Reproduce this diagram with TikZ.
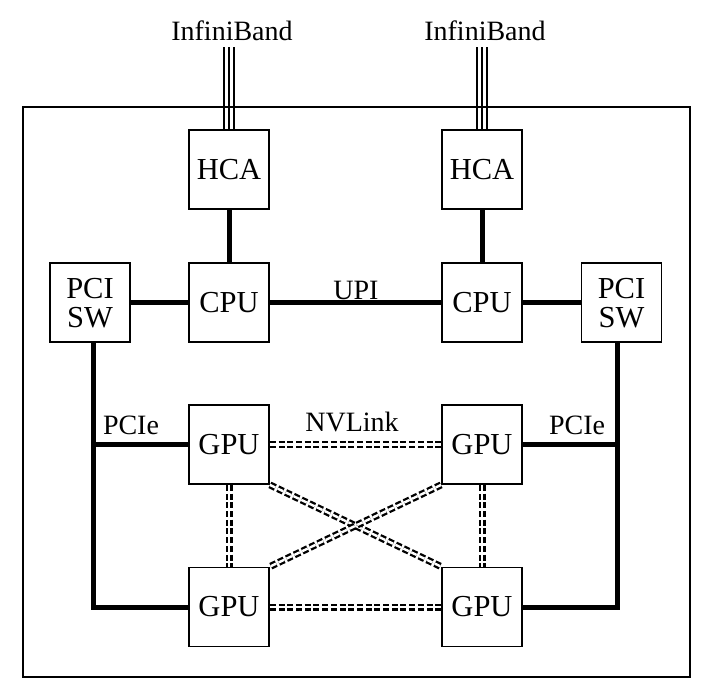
\documentclass[tikz,border=0pt]{standalone}
\usepackage{fontspec}
\setmainfont{Liberation Serif}
\begin{document}
\begin{tikzpicture}[x=1pt,y=-1pt,
  box/.style={draw,line width=1.8pt,minimum width=80pt,minimum height=79pt,inner sep=0pt,font=\fontsize{30.5}{31}\selectfont,align=center},
  lbl/.style={inner sep=0pt,font=\fontsize{28}{30}\selectfont},
  bus/.style={line width=5pt},
  nvl/.style={double,double distance=2.4pt,line width=2.3pt,dash pattern=on 6pt off 2.7pt},
  ibl/.style={line width=2.5pt}]
\useasboundingbox (0,0) rectangle (712,694);
\draw[line width=1.9pt] (23,107) rectangle (690,677);
% nodes
\node[box] (hca1) at (229,169.5) {HCA};
\node[box] (hca2) at (482,169.5) {HCA};
\node[box] (cpu1) at (229,302.5) {CPU};
\node[box] (cpu2) at (482,302.5) {CPU};
\node[box,text depth=0pt] (sw1) at (90,302.5) {PCI\\[-2pt]SW};
\node[box,text depth=0pt] (sw2) at (621.5,302.5) {PCI\\[-2pt]SW};
\node[box] (gpu1) at (229,444.5) {GPU};
\node[box] (gpu2) at (482,444.5) {GPU};
\node[box] (gpu3) at (229,607) {GPU};
\node[box] (gpu4) at (482,607) {GPU};
% labels
\node[lbl] (ib1) at (232,31) {InfiniBand};
\node[lbl] (ib2) at (485,31) {InfiniBand};
\node[lbl] (upi) at (356,290) {UPI};
\node[lbl] (nvl) at (352,422) {NVLink};
\node[lbl] (pcie1) at (131,425) {PCIe};
\node[lbl] (pcie2) at (577,425) {PCIe};
% infiniband triple lines
\foreach \h in {hca1,hca2}{
  \foreach \d in {-5,0,5}{
    \draw[ibl] ([xshift=\d pt]\h.north) -- ++(0,-82);
  }
}
% thick buses
\draw[bus] (hca1) -- (cpu1);
\draw[bus] (hca2) -- (cpu2);
\draw[bus] (sw1) -- (cpu1);
\draw[bus] (cpu1) -- (cpu2);
\draw[bus] (cpu2) -- (sw2);
\coordinate (l1) at ([xshift=3pt]sw1.south);
\coordinate (r1) at ([xshift=-4pt]sw2.south);
\draw[bus] (l1) |- (gpu3.west);
\draw[bus] (l1 |- gpu1.west) -- (gpu1.west);
\draw[bus] (r1) |- (gpu4.east);
\draw[bus] (r1 |- gpu2.east) -- (gpu2.east);
% nvlink
\draw[nvl] (gpu1) -- (gpu2);
\draw[nvl] (gpu3) -- (gpu4);
\draw[nvl] (gpu1) -- (gpu3);
\draw[nvl] (gpu2) -- (gpu4);
\draw[nvl] (gpu1.south east) -- (gpu4.north west);
\draw[nvl] (gpu2.south west) -- (gpu3.north east);
\end{tikzpicture}
\end{document}
